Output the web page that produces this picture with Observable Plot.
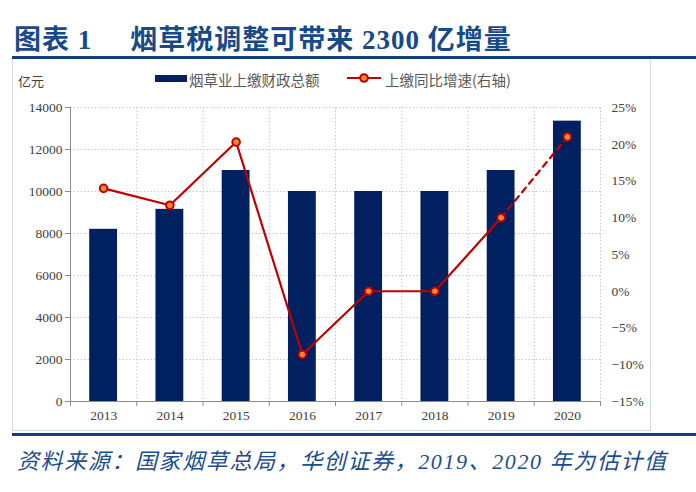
<!DOCTYPE html>
<html>
<head>
<meta charset="utf-8">
<script src="https://cdn.jsdelivr.net/npm/d3@7"></script>
<script src="https://cdn.jsdelivr.net/npm/@observablehq/plot@0.6"></script>
<style>
  html, body { margin: 0; padding: 0; background: #fff; }
  #page { position: relative; width: 696px; height: 492px; overflow: hidden; font-family: "Liberation Serif", "Noto Sans CJK SC", serif; }
  #title { position: absolute; left: 14px; top: 18px; font-size: 27px; font-weight: bold; color: #174a88; white-space: pre; letter-spacing: 1px; font-family: "Liberation Serif", "Noto Sans CJK SC", serif; }
  #topline { position: absolute; left: 12px; right: 0; top: 56px; height: 3px; background: #0f3f7d; }
  #box { position: absolute; left: 12px; top: 59px; width: 639px; height: 372px; border: 1px solid #d9d9d9; border-top: none; box-sizing: border-box; }
  #chart { position: absolute; left: 13px; top: 60px; }
  #unit { position: absolute; left: 18px; top: 71px; font-size: 13px; color: #404040; font-family: "Noto Sans CJK SC", sans-serif; }
  .leg { position: absolute; top: 69px; font-size: 14.5px; color: #595959; font-family: "Noto Sans CJK SC", sans-serif; white-space: nowrap; }
  #botline { position: absolute; left: 12px; right: 0; top: 433px; height: 3px; background: #0f3f7d; }
  #caption { position: absolute; left: 17px; top: 443px; font-size: 22px; font-style: italic; color: #1a4d8f; white-space: pre; letter-spacing: 1.6px; font-family: "Liberation Serif", "Noto Sans CJK SC", serif; }
</style>
</head>
<body>
<div id="page">
  <div id="title"><span>图表 1</span><span style="margin-left:38px">烟草税调整可带来 2300 亿增量</span></div>
  <div id="topline"></div>
  <div id="box"></div>
  <div id="chart"></div>
  <div id="unit">亿元</div>
  <div id="legend"></div>
  <div id="botline"></div>
  <div id="caption">资料来源：国家烟草总局，华创证券，2019、2020 年为估计值</div>
</div>
<script>
// ---- data ----
const years = ["2013", "2014", "2015", "2016", "2017", "2018", "2019", "2020"];
const revenue = [8200, 9150, 11000, 10000, 10000, 10000, 11000, 13350];   // 亿元
const growth = [14.0, 11.7, 20.3, -8.6, 0, 0, 10.0, 21.0];                 // %
const leftTicks = [0, 2000, 4000, 6000, 8000, 10000, 12000, 14000];
const rightTicks = [-15, -10, -5, 0, 5, 10, 15, 20, 25];
const seriesNames = ["烟草业上缴财政总额", "上缴同比增速(右轴)"];

const barColor = "#002060";
const lineColor = "#c00000";
const dotFill = "#f28a2b";

// right axis mapped onto left scale
const yMax = 14000, pMin = -15, pMax = 25;
const toLeft = p => (p - pMin) / (pMax - pMin) * yMax;
const toPct = v => v / yMax * (pMax - pMin) + pMin;

const rows = years.map((y, i) => ({i, year: y, revenue: revenue[i], growth: growth[i], gy: toLeft(growth[i])}));
const solid = rows.slice(0, 7);
const dashed = rows.slice(6, 8);
const boundaries = d3.range(-0.5, years.length, 1);
const half = 0.21;

const fmtPct = v => {
  const p = Math.round(toPct(v));
  return (p < 0 ? "\u2212" + Math.abs(p) : p) + "%";
};

const chart = Plot.plot({
  width: 638,
  height: 371,
  marginLeft: 57,
  marginRight: 51,
  marginTop: 47,
  marginBottom: 30,
  style: {background: "transparent", fontFamily: "'Liberation Serif', serif", fontSize: "13.5px", color: "#404040"},
  x: {type: "linear", domain: [-0.5, years.length - 0.5]},
  y: {domain: [0, yMax]},
  marks: [
    Plot.gridY(leftTicks, {stroke: "#c8c8c8", strokeOpacity: 1, strokeDasharray: "1.5,2"}),
    Plot.gridX(boundaries.slice(1), {stroke: "#c8c8c8", strokeOpacity: 1, strokeDasharray: "1.5,2"}),
    Plot.rectY(rows, {x1: d => d.i - half, x2: d => d.i + half, y1: 0, y2: "revenue", fill: barColor}),
    Plot.ruleX([-0.5], {stroke: "#8c8c8c", strokeWidth: 1}),
    Plot.ruleY([0], {stroke: "#8c8c8c", strokeWidth: 1}),
    Plot.axisY({ticks: leftTicks, tickSize: 5, tickPadding: 3, stroke: "#8c8c8c", label: null, tickFormat: d => String(d), fill: "#404040"}),
    Plot.axisY({anchor: "right", ticks: rightTicks.map(toLeft), tickSize: 0, tickPadding: 11, textAnchor: "start", label: null, tickFormat: fmtPct, fill: "#404040"}),
    Plot.axisX({ticks: d3.range(years.length), tickSize: 0, tickPadding: 9, label: null, tickFormat: i => years[i], fill: "#404040"}),
    Plot.axisX({ticks: boundaries, tickSize: 5, tickFormat: () => "", label: null, stroke: "#8c8c8c"}),
    Plot.line(solid, {x: "i", y: "gy", stroke: lineColor, strokeWidth: 2.2}),
    Plot.line(dashed, {x: "i", y: "gy", stroke: lineColor, strokeWidth: 2.2, strokeDasharray: "6,5"}),
    Plot.dot(rows, {x: "i", y: "gy", r: 3.8, fill: dotFill, stroke: lineColor, strokeWidth: 2})
  ]
});
document.getElementById("chart").appendChild(chart);

// legend (HTML)
const legend = document.getElementById("legend");
legend.innerHTML = `
  <div style="position:absolute;left:155px;top:75px;width:32px;height:7px;background:${barColor}"></div>
  <div class="leg" style="left:189px">${seriesNames[0]}</div>
  <svg style="position:absolute;left:346px;top:71px" width="36" height="14">
    <line x1="1" y1="7" x2="35" y2="7" stroke="${lineColor}" stroke-width="2.2"/>
    <circle cx="18" cy="7" r="3.8" fill="${dotFill}" stroke="${lineColor}" stroke-width="2"/>
  </svg>
  <div class="leg" style="left:385px">${seriesNames[1]}</div>`;
</script>
</body>
</html>
